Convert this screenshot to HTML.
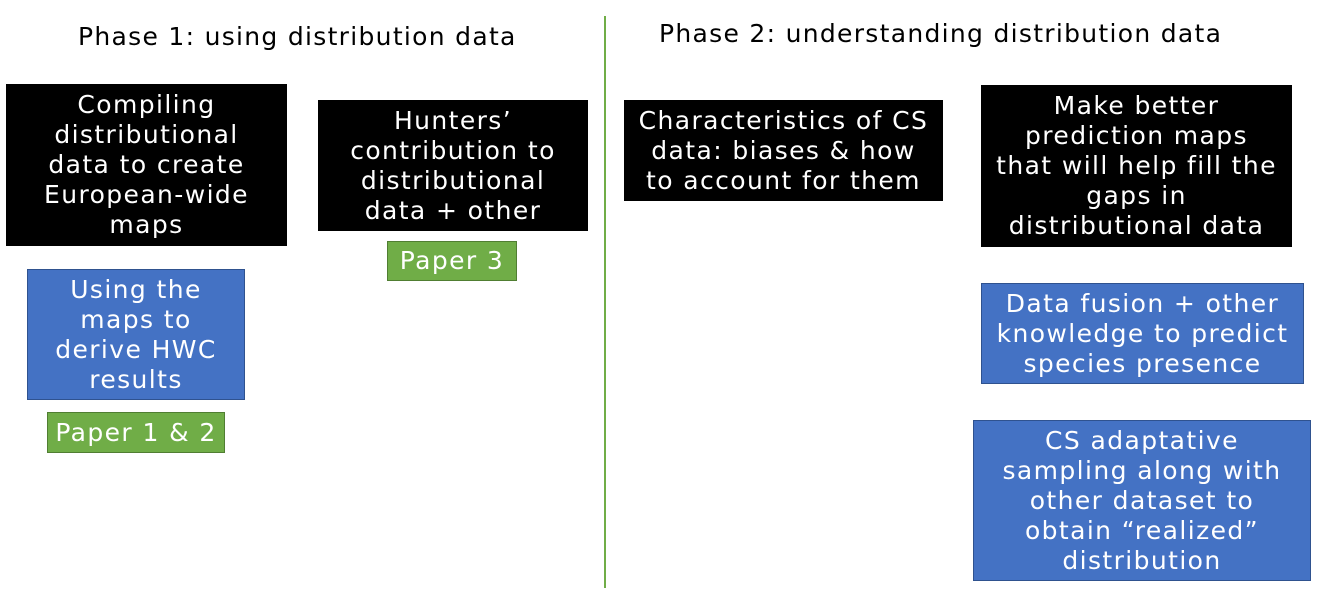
<!DOCTYPE html>
<html><head><meta charset="utf-8"><style>
body{margin:0;width:1327px;height:613px;background:#fff;position:relative;overflow:hidden;font-family:"DejaVu Sans","Liberation Sans",sans-serif;}
.b{position:absolute;box-sizing:border-box;display:flex;align-items:center;justify-content:center;text-align:center;color:#fff;font-size:25px;line-height:30px;letter-spacing:1.4px;white-space:nowrap}
.k{background:#000}
.u{background:#4472C4;border:1px solid #2F528F}
.g{background:#70AD47;border:1px solid #507E32}
.t{position:absolute;font-size:25px;color:#000;white-space:nowrap;letter-spacing:1.3px}
</style></head><body>
<div class="t" style="left:78px;top:22px">Phase 1: using distribution data</div>
<div class="t" style="left:659px;top:19px">Phase 2: understanding distribution data</div>
<div style="position:absolute;left:604px;top:16px;width:2px;height:572px;background:#70AD47"></div>

<div class="b k" style="left:6px;top:84px;width:281px;height:162px">Compiling<br>distributional<br>data to create<br>European-wide<br>maps</div>
<div class="b k" style="left:318px;top:100px;width:270px;height:131px">Hunters’<br>contribution to<br>distributional<br>data + other</div>
<div class="b g" style="left:387px;top:241px;width:130px;height:40px">Paper 3</div>
<div class="b u" style="left:27px;top:269px;width:218px;height:131px">Using the<br>maps to<br>derive HWC<br>results</div>
<div class="b g" style="left:47px;top:412px;width:178px;height:41px">Paper 1 &amp; 2</div>

<div class="b k" style="left:624px;top:100px;width:319px;height:101px">Characteristics of CS<br>data: biases &amp; how<br>to account for them</div>
<div class="b k" style="left:981px;top:85px;width:311px;height:162px">Make better<br>prediction maps<br>that will help fill the<br>gaps in<br>distributional data</div>
<div class="b u" style="left:981px;top:283px;width:323px;height:101px">Data fusion + other<br>knowledge to predict<br>species presence</div>
<div class="b u" style="left:973px;top:420px;width:338px;height:161px">CS adaptative<br>sampling along with<br>other dataset to<br>obtain “realized”<br>distribution</div>
</body></html>
